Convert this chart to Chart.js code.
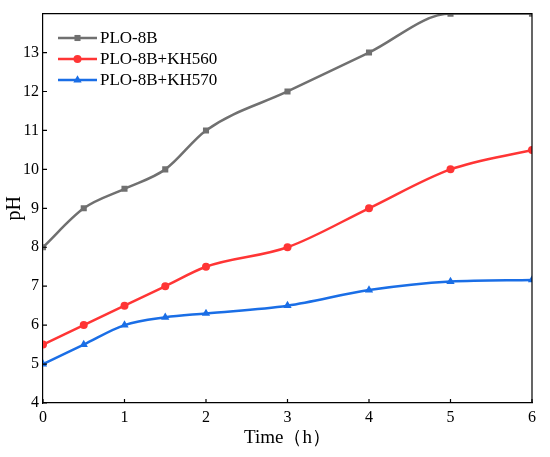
<!DOCTYPE html>
<html>
<head>
<meta charset="utf-8">
<script src="https://cdn.jsdelivr.net/npm/chart.js@4"></script>
<style>
    html, body { margin: 0; padding: 0; background: #fff; }
    #wrap { width: 550px; height: 457px; }
</style>
</head>
<body>
<div id="wrap"><canvas id="phChart"></canvas></div>
<script>
// Chart data
const times = [0, 0.5, 1, 1.5, 2, 3, 4, 5, 6];
const plo8b = [8, 9, 9.5, 10, 11, 12, 13, 14, 14];
const ploKh560 = [5.5, 6, 6.5, 7, 7.5, 8, 9, 10, 10.5];
const ploKh570 = [5, 5.5, 6, 6.2, 6.3, 6.5, 6.9, 7.12, 7.16];
const seriesNames = ['PLO-8B', 'PLO-8B+KH560', 'PLO-8B+KH570'];

const FONT = '"Liberation Serif", "Times New Roman", serif';

function toPoints(ys) {
    return times.map((t, i) => ({ x: t, y: ys[i] }));
}

function makeDataset(label, ys, color, style, radius) {
    return {
        label: label,
        data: toPoints(ys),
        borderColor: color,
        backgroundColor: color,
        borderWidth: 2.5,
        pointStyle: style,
        pointRadius: radius,
        pointBorderWidth: 0,
        cubicInterpolationMode: 'monotone'
    };
}

// Inward ticks, top/right frame and the legend inside the plot
const framePlugin = {
    id: 'frame',
    afterDraw(chart) {
        const ctx = chart.ctx;
        const area = chart.chartArea;
        const xs = chart.scales.x;
        const ys = chart.scales.y;
        ctx.save();
        ctx.strokeStyle = '#000';
        ctx.lineWidth = 1.2;
        ctx.beginPath();
        ctx.moveTo(area.left, area.top);
        ctx.lineTo(area.right, area.top);
        ctx.lineTo(area.right, area.bottom);
        ctx.stroke();

        ctx.beginPath();
        xs.ticks.forEach(t => {
            const px = xs.getPixelForValue(t.value);
            ctx.moveTo(px, area.bottom);
            ctx.lineTo(px, area.bottom - 4);
        });
        ys.ticks.forEach(t => {
            const py = ys.getPixelForValue(t.value);
            ctx.moveTo(area.left, py);
            ctx.lineTo(area.left + 4, py);
        });
        ctx.stroke();

        // legend
        ctx.font = '17px ' + FONT;
        ctx.textBaseline = 'middle';
        chart.data.datasets.forEach((ds, i) => {
            const y = 38 + i * 21;
            const x0 = 58, x1 = 97;
            ctx.strokeStyle = ds.borderColor;
            ctx.lineWidth = ds.borderWidth;
            ctx.beginPath();
            ctx.moveTo(x0, y);
            ctx.lineTo(x1, y);
            ctx.stroke();
            ctx.fillStyle = ds.borderColor;
            ctx.beginPath();
            Chart.helpers.drawPoint(ctx, {
                pointStyle: ds.pointStyle,
                radius: ds.pointRadius,
                rotation: 0,
                borderWidth: 0
            }, (x0 + x1) / 2, y);
            ctx.fillStyle = '#000';
            ctx.fillText(ds.label, 100, y + 1);
        });
        ctx.restore();
    }
};

const ctx = document.getElementById('phChart').getContext('2d');
const phChart = new Chart(ctx, {
    type: 'line',
    data: {
        datasets: [
            makeDataset(seriesNames[0], plo8b, '#707070', 'rect', 4.3),
            makeDataset(seriesNames[1], ploKh560, '#ff3535', 'circle', 4),
            makeDataset(seriesNames[2], ploKh570, '#1a6ee6', 'triangle', 4.8)
        ]
    },
    options: {
        responsive: true,
        maintainAspectRatio: false,
        animation: false,
        layout: { padding: { top: 7.5, right: 18, left: 0, bottom: 0 } },
        plugins: {
            legend: { display: false },
            tooltip: { enabled: false }
        },
        scales: {
            x: {
                type: 'linear',
                min: 0,
                max: 6,
                afterFit: s => { s.height = 54; },
                grid: { display: false, drawTicks: false },
                border: { display: true, color: '#000', width: 1.2 },
                ticks: {
                    stepSize: 1,
                    padding: 5,
                    color: '#000',
                    font: { family: FONT, size: 16 }
                },
                title: {
                    display: true,
                    text: 'Time（h）',
                    color: '#000',
                    padding: { top: 0, bottom: 8 },
                    font: { family: FONT, size: 19 }
                }
            },
            y: {
                min: 4,
                max: 14,
                afterFit: s => { s.width = 43; },
                grid: { display: false, drawTicks: false },
                border: { display: true, color: '#000', width: 1.2 },
                ticks: {
                    stepSize: 1,
                    padding: 4,
                    color: '#000',
                    font: { family: FONT, size: 16 },
                    callback: v => (v === 14 ? null : v)
                },
                title: {
                    display: true,
                    text: 'pH',
                    color: '#000',
                    padding: { top: 3, bottom: 0 },
                    font: { family: FONT, size: 20 }
                }
            }
        }
    },
    plugins: [framePlugin]
});
</script>
</body>
</html>
